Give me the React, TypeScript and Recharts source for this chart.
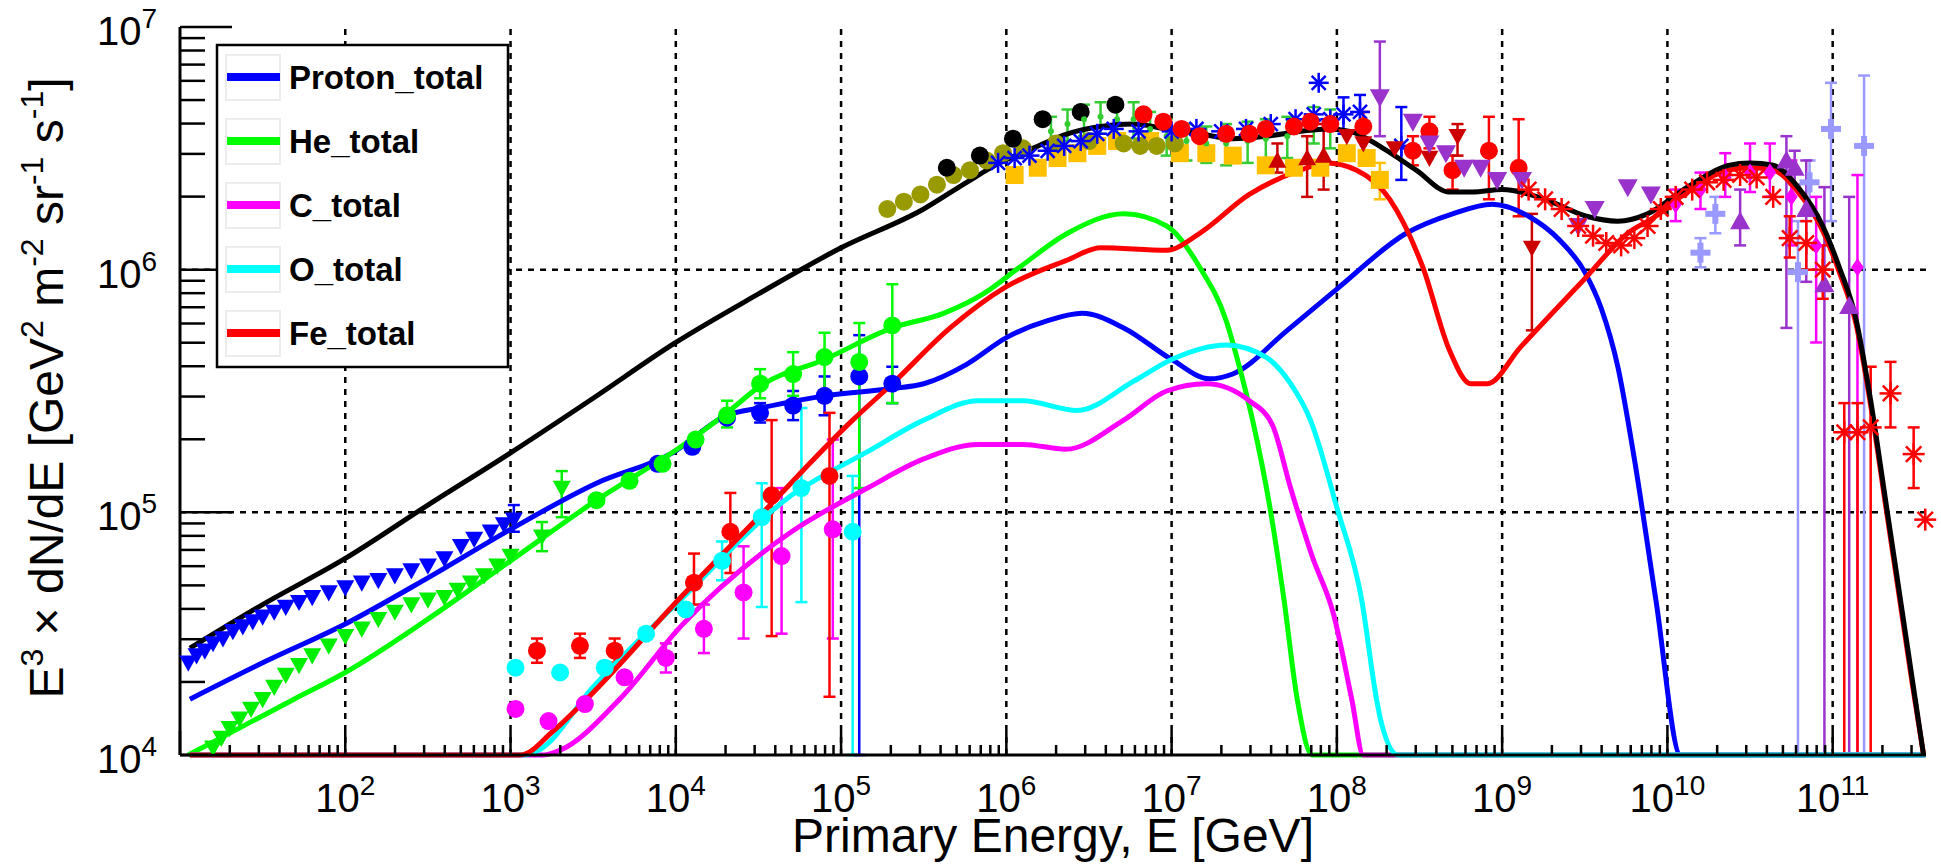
import React from 'react';
import {
  ComposedChart,
  Line,
  Scatter,
  XAxis,
  YAxis,
  ErrorBar,
  ReferenceLine,
} from 'recharts';

// All values as log10(E / GeV), log10(E^3 dN/dE).
// Optional 3rd / 4th entries are log10 of the error bar low / high ends.
type Row = number[];

const FONT = '"Liberation Sans", Arial, Helvetica, sans-serif';

const xDomain = [10, 3.67e11];
const yDomain = [1e4, 1e7];
const xDecadeExps = [1, 2, 3, 4, 5, 6, 7, 8, 9, 10, 11];
const yDecadeExps = [4, 5, 6, 7];
const minorMultipliers = [2, 3, 4, 5, 6, 7, 8, 9];
const xGridExps = [2, 3, 4, 5, 6, 7, 8, 9, 10, 11];
const yGridExps = [5, 6];

const xTitle = 'Primary Energy, E [GeV]';
// [text, isSuperscript]
const yTitleParts: [string, boolean][] = [
  ['E', false], ['3', true], [' × dN/dE [GeV', false], ['2', true], [' m', false], ['-2', true],
  [' sr', false], ['-1', true], [' s', false], ['-1', true], [']', false],
];

// model curves
const protonTotal: Row[] = [
  [1.06, 4.23], [1.5, 4.38], [2, 4.54], [2.5, 4.73], [3, 4.93], [3.52, 5.12], [3.98, 5.245],
  [4.31, 5.4], [4.51, 5.43], [4.9, 5.48], [5.31, 5.51], [5.5, 5.53], [5.76, 5.61], [6, 5.72],
  [6.25, 5.79], [6.46, 5.82], [6.71, 5.76], [7, 5.63], [7.23, 5.55], [7.37, 5.57], [7.7, 5.75],
  [8, 5.92], [8.42, 6.15], [8.7, 6.23], [8.94, 6.27], [9.16, 6.22], [9.35, 6.12], [9.5, 5.99],
  [9.6, 5.84], [9.7, 5.6], [9.8, 5.22], [9.93, 4.64], [10.08, 4.0], [11.56, 4.0],
];
const heliumTotal: Row[] = [
  [1.05, 4.0], [1.69, 4.23], [2, 4.34], [2.5, 4.56], [3, 4.8], [3.52, 5.05], [4.03, 5.27],
  [4.31, 5.41], [4.51, 5.52], [4.9, 5.63], [5.31, 5.76], [5.62, 5.82], [5.86, 5.9], [6.08, 6.01],
  [6.37, 6.15], [6.71, 6.23], [6.97, 6.18], [7.17, 6.01], [7.33, 5.79], [7.41, 5.6], [7.49, 5.38],
  [7.6, 5.0], [7.68, 4.64], [7.76, 4.23], [7.85, 4.0], [11.56, 4.0],
];
const carbonTotal: Row[] = [
  [1.06, 4.0], [3.2, 4.0], [3.3, 4.02], [3.66, 4.23], [4.03, 4.53], [4.7, 4.92], [5.16, 5.1],
  [5.5, 5.22], [5.83, 5.28], [6.1, 5.28], [6.36, 5.26], [6.71, 5.38], [6.97, 5.5], [7.21, 5.53],
  [7.47, 5.46], [7.61, 5.36], [7.72, 5.1], [7.85, 4.82], [7.98, 4.58], [8.09, 4.23], [8.16, 4.0],
  [11.56, 4.0],
];
const oxygenTotal: Row[] = [
  [1.06, 4.0], [3.08, 4.0], [3.17, 4.02], [3.5, 4.28], [4.03, 4.64], [4.7, 5.07], [5.16, 5.25],
  [5.5, 5.38], [5.83, 5.46], [6.1, 5.46], [6.43, 5.42], [6.77, 5.54], [7, 5.63], [7.33, 5.69],
  [7.57, 5.64], [7.72, 5.53], [7.84, 5.38], [8, 5.02], [8.15, 4.64], [8.24, 4.23], [8.27, 4.13],
  [8.37, 4.0], [11.56, 4.0],
];
const ironTotal: Row[] = [
  [1.06, 4.0], [3.06, 4.0], [3.26, 4.1], [3.46, 4.23], [4.03, 4.65], [4.5, 4.98], [5.07, 5.38],
  [5.31, 5.53], [5.66, 5.76], [6, 5.93], [6.37, 6.04], [6.57, 6.09], [6.97, 6.08], [7.17, 6.15],
  [7.47, 6.31], [7.78, 6.41], [7.94, 6.44], [8.12, 6.41], [8.32, 6.29], [8.52, 6.01], [8.68, 5.67],
  [8.81, 5.53], [8.91, 5.53], [9.11, 5.68], [9.51, 5.97], [9.76, 6.15], [9.93, 6.22], [10.12, 6.32],
  [10.37, 6.41], [10.5, 6.42], [10.64, 6.41], [10.79, 6.32], [10.94, 6.16], [11.04, 5.99],
  [11.14, 5.78], [11.23, 5.44], [11.32, 5.03], [11.41, 4.62], [11.48, 4.3], [11.55, 4.0],
];
const allTotal: Row[] = [
  [1.06, 4.44], [1.5, 4.62], [2, 4.81], [2.5, 5.03], [3, 5.245], [3.5, 5.47], [4, 5.7], [4.5, 5.9],
  [5, 6.09], [5.5, 6.25], [5.76, 6.36], [5.96, 6.44], [6.16, 6.5], [6.37, 6.56], [6.57, 6.59],
  [6.77, 6.6], [6.97, 6.58], [7.17, 6.56], [7.37, 6.54], [7.57, 6.55], [7.78, 6.57], [7.94, 6.58],
  [8.08, 6.57], [8.28, 6.5], [8.48, 6.41], [8.68, 6.32], [8.82, 6.32], [9, 6.33], [9.26, 6.29],
  [9.51, 6.22], [9.7, 6.2], [9.88, 6.23], [10.12, 6.34], [10.37, 6.43], [10.5, 6.44], [10.64, 6.43],
  [10.79, 6.34], [10.94, 6.18], [11.04, 6.01], [11.14, 5.8], [11.23, 5.46], [11.32, 5.05],
  [11.41, 4.64], [11.48, 4.32], [11.55, 4.0],
];

// measured points
const protonLowTri: Row[] = [
  [1.05, 4.38], [1.1, 4.41], [1.15, 4.43], [1.2, 4.46], [1.26, 4.48], [1.32, 4.51], [1.38, 4.53],
  [1.44, 4.55], [1.5, 4.57], [1.57, 4.59], [1.64, 4.61], [1.72, 4.63], [1.8, 4.65], [1.9, 4.67],
  [2, 4.69], [2.1, 4.71], [2.2, 4.72], [2.3, 4.74], [2.4, 4.76], [2.5, 4.78], [2.6, 4.81],
  [2.7, 4.86], [2.78, 4.89], [2.88, 4.92], [2.96, 4.95], [3.02, 4.97, 4.92, 5.03],
];
const heliumLowTri: Row[] = [
  [1.2, 4.03], [1.25, 4.07], [1.3, 4.11], [1.36, 4.15], [1.43, 4.19], [1.5, 4.23], [1.57, 4.28],
  [1.64, 4.33], [1.72, 4.37], [1.8, 4.41], [1.9, 4.45], [2, 4.49], [2.1, 4.52], [2.2, 4.56],
  [2.3, 4.59], [2.4, 4.62], [2.5, 4.64], [2.6, 4.65], [2.68, 4.68], [2.76, 4.71], [2.84, 4.74],
  [2.92, 4.78], [3, 4.82], [3.19, 4.9, 4.84, 4.96], [3.31, 5.1, 4.98, 5.17],
];
const protonCircles: Row[] = [
  [3.89, 5.2], [4.1, 5.27], [4.31, 5.39], [4.51, 5.41, 5.37, 5.45], [4.71, 5.44, 5.38, 5.5],
  [4.9, 5.48, 5.4, 5.56], [5.11, 5.56, 4.0, 5.73], [5.31, 5.53, 5.45, 5.6],
];
const heliumCircles: Row[] = [
  [3.52, 5.05], [3.72, 5.13], [3.92, 5.2], [4.12, 5.3], [4.31, 5.4, 5.35, 5.46],
  [4.51, 5.53, 5.47, 5.59], [4.71, 5.57, 5.48, 5.66], [4.9, 5.64, 5.46, 5.74],
  [5.11, 5.62, 5.1, 5.78], [5.31, 5.77, 5.45, 5.94],
];
const ironCircles: Row[] = [
  [3.16, 4.43, 4.38, 4.48], [3.42, 4.45, 4.4, 4.5], [3.63, 4.43, 4.38, 4.48],
  [4.11, 4.71, 4.62, 4.83], [4.33, 4.92, 4.75, 5.08], [4.58, 5.07, 4.49, 5.38],
  [4.93, 5.15, 4.24, 5.41],
];
const oxygenCircles: Row[] = [
  [3.03, 4.36], [3.3, 4.34], [3.57, 4.36], [3.82, 4.5], [4.06, 4.6], [4.28, 4.8, 4.72, 4.88],
  [4.52, 4.98, 4.61, 5.12], [4.76, 5.1, 4.63, 5.43], [5.07, 4.92, 4.0, 5.15],
];
const carbonCircles: Row[] = [
  [3.03, 4.19], [3.23, 4.14], [3.45, 4.21], [3.69, 4.32], [3.94, 4.4, 4.34, 4.46],
  [4.17, 4.52, 4.42, 4.62], [4.41, 4.67, 4.48, 4.86], [4.64, 4.82, 4.5, 5.1], [4.95, 4.93, 4.48, 5.3],
];
const oliveCircles: Row[] = [
  [5.28, 6.25], [5.38, 6.28], [5.48, 6.31], [5.58, 6.35], [5.68, 6.39], [5.78, 6.41], [5.88, 6.45],
  [5.98, 6.48], [6.1, 6.5], [6.3, 6.52], [6.5, 6.53], [6.71, 6.52], [6.81, 6.51], [6.91, 6.51],
  [7.02, 6.52],
];
const blackCircles: Row[] = [
  [5.64, 6.42], [5.84, 6.47], [6.04, 6.54], [6.22, 6.62], [6.45, 6.65], [6.66, 6.68],
];
const greenBars: Row[] = [
  [6.27, 6.57, 6.5, 6.63], [6.37, 6.6, 6.53, 6.66], [6.47, 6.62, 6.55, 6.68], [6.57, 6.63, 6.56, 6.69],
  [6.67, 6.62, 6.55, 6.68], [6.77, 6.62, 6.54, 6.69], [6.87, 6.58, 6.5, 6.65], [6.97, 6.55, 6.47, 6.62],
  [7.09, 6.53, 6.45, 6.6], [7.21, 6.52, 6.44, 6.59], [7.33, 6.52, 6.43, 6.6], [7.46, 6.53, 6.44, 6.61],
  [7.57, 6.54, 6.45, 6.62], [7.7, 6.55, 6.46, 6.63], [7.86, 6.6, 6.52, 6.67], [7.96, 6.58, 6.5, 6.66],
];
const blueStars: Row[] = [
  [5.95, 6.44], [6.05, 6.46], [6.14, 6.47], [6.25, 6.49], [6.35, 6.51], [6.45, 6.53], [6.55, 6.56],
  [6.65, 6.58], [6.8, 6.57], [7, 6.57], [7.15, 6.58], [7.3, 6.57], [7.45, 6.58], [7.6, 6.6],
  [7.75, 6.62], [7.86, 6.64], [7.89, 6.77], [7.96, 6.62], [8.04, 6.64, 6.56, 6.71],
  [8.14, 6.65, 6.56, 6.72], [8.39, 6.51, 6.37, 6.67],
];
const orangeSquares: Row[] = [
  [6.05, 6.39], [6.19, 6.42], [6.31, 6.46], [6.43, 6.48], [6.55, 6.51], [6.67, 6.53], [6.87, 6.53],
  [7.05, 6.48], [7.21, 6.48], [7.37, 6.47], [7.57, 6.43], [7.74, 6.42], [7.9, 6.42], [8.06, 6.48],
  [8.18, 6.46], [8.26, 6.37, 6.29, 6.44],
];
const redHighCircles: Row[] = [
  [6.83, 6.64], [6.95, 6.61], [7.06, 6.58], [7.17, 6.55], [7.33, 6.56], [7.47, 6.56], [7.57, 6.58],
  [7.74, 6.59], [7.84, 6.61], [7.96, 6.6], [8.16, 6.59, 6.53, 6.65], [8.46, 6.49, 6.43, 6.55],
  [8.56, 6.57, 6.5, 6.63], [8.7, 6.41, 6.33, 6.47], [8.92, 6.49, 6.29, 6.63], [9.1, 6.42, 6.22, 6.62],
];
const darkRedUp: Row[] = [
  [7.64, 6.45, 6.4, 6.52], [7.82, 6.46, 6.3, 6.55], [7.92, 6.47, 6.33, 6.6],
];
const darkRedDown: Row[] = [
  [8.06, 6.55], [8.16, 6.52], [8.35, 6.5], [8.56, 6.46], [8.73, 6.55, 6.47, 6.6],
  [9.18, 6.09, 5.75, 6.23],
];
const purpleDown: Row[] = [
  [8.26, 6.71, 6.55, 6.94], [8.46, 6.61], [8.56, 6.52], [8.66, 6.48], [8.77, 6.42], [8.87, 6.42],
  [8.97, 6.37], [9.12, 6.37], [9.46, 6.18], [9.56, 6.25], [9.76, 6.34], [9.9, 6.31],
];
const redCrosses: Row[] = [
  [9.16, 6.33], [9.26, 6.29], [9.36, 6.25], [9.46, 6.18], [9.55, 6.14], [9.63, 6.11], [9.72, 6.1],
  [9.8, 6.13], [9.88, 6.18], [9.96, 6.25], [10.05, 6.3], [10.15, 6.33], [10.24, 6.36],
  [10.34, 6.37], [10.44, 6.39], [10.54, 6.38], [10.64, 6.3], [10.74, 6.13, 6.05, 6.22],
  [10.84, 6.11, 6.0, 6.2], [10.94, 6.0, 5.88, 6.1], [11.07, 5.33, 4.0, 5.45],
  [11.15, 5.33, 4.0, 5.45], [11.23, 5.35, 4.0, 5.6], [11.35, 5.49, 5.35, 5.62],
  [11.49, 5.24, 5.1, 5.35], [11.56, 4.97],
];
const magentaDiamonds: Row[] = [
  [10.05, 6.27, 6.2, 6.33], [10.2, 6.33, 6.25, 6.4], [10.35, 6.38, 6.3, 6.48], [10.5, 6.4, 6.32, 6.52],
  [10.62, 6.4, 6.3, 6.52], [10.75, 6.3, 6.1, 6.45], [10.9, 6.1, 5.7, 6.3], [11.15, 6.01, 4.0, 6.39],
];
const lavenderCrosses: Row[] = [
  [10.2, 6.07, 6.01, 6.13], [10.29, 6.23, 6.15, 6.3], [10.79, 5.99, 4.0, 6.2],
  [10.86, 6.36, 6.25, 6.45], [10.99, 6.58, 6.2, 6.77], [11.19, 6.51, 4.0, 6.8],
];
const purpleUp: Row[] = [
  [10.44, 6.2, 6.1, 6.33], [10.72, 6.45, 5.76, 6.55], [10.77, 6.42, 6.35, 6.49],
  [10.84, 6.25, 5.95, 6.45], [10.95, 5.94, 4.0, 6.34], [11.1, 5.85, 4.0, 6.3],
];

type Pt = { x: number; y: number; err?: [number, number] };

const toPoints = (rows: Row[]): Pt[] =>
  rows.map(([e, v, lo, hi]) => {
    const y = 10 ** v;
    const p: Pt = { x: 10 ** e, y };
    if (lo !== undefined && hi !== undefined) p.err = [y - 10 ** lo, 10 ** hi - y];
    return p;
  });

// marker shapes
const mk = (draw: (x: number, y: number) => React.ReactElement) => (p: any) => {
  if (p == null || p.cx == null || p.cy == null) return <g />;
  return draw(p.cx, p.cy);
};
const circleM = (c: string, r = 9) => mk((x, y) => <circle cx={x} cy={y} r={r} fill={c} />);
const triDownM = (c: string, s = 9) =>
  mk((x, y) => <polygon points={`${x - s},${y - s * 0.8} ${x + s},${y - s * 0.8} ${x},${y + s}`} fill={c} />);
const triUpM = (c: string, s = 9) =>
  mk((x, y) => <polygon points={`${x - s},${y + s * 0.8} ${x + s},${y + s * 0.8} ${x},${y - s}`} fill={c} />);
const starM = (c: string, s = 10) =>
  mk((x, y) => (
    <g stroke={c} strokeWidth={2.5}>
      <line x1={x - s} x2={x + s} y1={y} y2={y} />
      <line x1={x} x2={x} y1={y - s} y2={y + s} />
      <line x1={x - s * 0.7} x2={x + s * 0.7} y1={y - s * 0.7} y2={y + s * 0.7} />
      <line x1={x - s * 0.7} x2={x + s * 0.7} y1={y + s * 0.7} y2={y - s * 0.7} />
    </g>
  ));
const squareM = (c: string, s = 9) => mk((x, y) => <rect x={x - s} y={y - s} width={2 * s} height={2 * s} fill={c} />);
const plusM = (c: string, s = 10) =>
  mk((x, y) => (
    <g stroke={c} strokeWidth={6}>
      <line x1={x - s} x2={x + s} y1={y} y2={y} />
      <line x1={x} x2={x} y1={y - s} y2={y + s} />
    </g>
  ));
const diamondM = (c: string, s = 9) =>
  mk((x, y) => <polygon points={`${x},${y - s} ${x + s * 0.7},${y} ${x},${y + s} ${x - s * 0.7},${y}`} fill={c} />);

const pointSeries = [
  { key: 'orangeSq', rows: orangeSquares, color: '#ffc000', shape: squareM('#ffc000') },
  { key: 'olive', rows: oliveCircles, color: '#999900', shape: circleM('#999900') },
  { key: 'blackC', rows: blackCircles, color: '#000000', shape: circleM('#000000') },
  { key: 'greenBars', rows: greenBars, color: '#33cc33', shape: circleM('#33cc33', 3) },
  { key: 'blueStars', rows: blueStars, color: '#0000ff', shape: starM('#0000ff') },
  { key: 'redHigh', rows: redHighCircles, color: '#ff0000', shape: circleM('#ff0000') },
  { key: 'darkUp', rows: darkRedUp, color: '#cc0000', shape: triUpM('#cc0000') },
  { key: 'darkDown', rows: darkRedDown, color: '#cc0000', shape: triDownM('#cc0000') },
  { key: 'purpleDown', rows: purpleDown, color: '#9933cc', shape: triDownM('#9933cc', 10) },
  { key: 'lavender', rows: lavenderCrosses, color: '#9999ff', shape: plusM('#9999ff') },
  { key: 'magentaD', rows: magentaDiamonds, color: '#ff00ff', shape: diamondM('#ff00ff') },
  { key: 'purpleUp', rows: purpleUp, color: '#9933cc', shape: triUpM('#9933cc', 10) },
  { key: 'redCross', rows: redCrosses, color: '#ff0000', shape: starM('#ff0000', 11) },
  { key: 'pTri', rows: protonLowTri, color: '#0000ff', shape: triDownM('#0000ff') },
  { key: 'heTri', rows: heliumLowTri, color: '#00ee00', shape: triDownM('#00ee00') },
  { key: 'pCirc', rows: protonCircles, color: '#0000ff', shape: circleM('#0000ff') },
  { key: 'heCirc', rows: heliumCircles, color: '#00ff00', shape: circleM('#00ff00') },
  { key: 'oCirc', rows: oxygenCircles, color: '#00ffff', shape: circleM('#00ffff') },
  { key: 'cCirc', rows: carbonCircles, color: '#ff00ff', shape: circleM('#ff00ff') },
  { key: 'feCirc', rows: ironCircles, color: '#ff0000', shape: circleM('#ff0000') },
];

const curveSeries = [
  { name: 'Proton_total', rows: protonTotal, color: '#0000ff' },
  { name: 'He_total', rows: heliumTotal, color: '#00ff00' },
  { name: 'C_total', rows: carbonTotal, color: '#ff00ff' },
  { name: 'O_total', rows: oxygenTotal, color: '#00ffff' },
  { name: 'Fe_total', rows: ironTotal, color: '#ff0000' },
];

const xTicks = xDecadeExps
  .flatMap((d) => [10 ** d, ...minorMultipliers.map((m) => m * 10 ** d)])
  .filter((v) => v <= xDomain[1]);
const yTicks = yDecadeExps.flatMap((d) => (d === 7 ? [10 ** d] : [10 ** d, ...minorMultipliers.map((m) => m * 10 ** d)]));

const expOf = (v: number) => Math.round(Math.log10(v));
const isMajor = (v: number) => Math.abs(Math.log10(v) - expOf(v)) < 1e-9;

const BottomTick = (props: any) => {
  const { x, y, payload } = props;
  const v = payload.value;
  const major = isMajor(v);
  const e = expOf(v);
  return (
    <g>
      <line x1={x} x2={x} y1={y} y2={y - (major ? 24 : 10)} stroke="#000" strokeWidth={2.5} />
      {major && e >= 2 && (
        <text x={x} y={y + 57} textAnchor="middle" fontSize={40} fontFamily={FONT} fill="#000">
          10<tspan dy={-17} fontSize={28}>{e}</tspan>
        </text>
      )}
    </g>
  );
};
const TopTick = (props: any) => {
  const { x, y, payload } = props;
  const major = isMajor(payload.value);
  return <line x1={x} x2={x} y1={y} y2={y + (major ? 25 : 10)} stroke="#000" strokeWidth={2.5} />;
};
const LeftTick = (props: any) => {
  const { x, y, payload } = props;
  const v = payload.value;
  const major = isMajor(v);
  return (
    <g>
      <line x1={x} x2={x + (major ? 52 : 25)} y1={y} y2={y} stroke="#000" strokeWidth={2.5} />
      {major && (
        <text x={x - 23} y={y + 18} textAnchor="end" fontSize={40} fontFamily={FONT} fill="#000">
          10<tspan dy={-17} fontSize={28}>{expOf(v)}</tspan>
        </text>
      )}
    </g>
  );
};
const RightTick = (props: any) => {
  const { x, y, payload } = props;
  const major = isMajor(payload.value);
  return <line x1={x} x2={x - (major ? 52 : 25)} y1={y} y2={y} stroke="#000" strokeWidth={2.5} />;
};

const axisLine = { stroke: '#000', strokeWidth: 3 };
const gridStyle = { stroke: '#000', strokeWidth: 2.5, strokeDasharray: '6 6' };

export default function App() {
  return (
    <div style={{ position: 'relative', width: 1941, height: 868, background: '#fff' }}>
      <style>{'body{margin:0}'}</style>
      <ComposedChart width={1941} height={868} margin={{ top: 27, right: 15, bottom: 0, left: 0 }}>
        <XAxis
          dataKey="x"
          type="number"
          scale="log"
          domain={xDomain}
          ticks={xTicks}
          interval={0}
          height={113}
          tickSize={0}
          tickMargin={0}
          tickLine={false}
          axisLine={axisLine}
          tick={(p: any) => <BottomTick {...p} />}
        />
        <XAxis
          xAxisId="top"
          orientation="top"
          dataKey="x"
          type="number"
          scale="log"
          domain={xDomain}
          ticks={xTicks}
          interval={0}
          height={0}
          tickSize={0}
          tickMargin={0}
          tickLine={false}
          axisLine={axisLine}
          tick={(p: any) => <TopTick {...p} />}
        />
        <YAxis
          dataKey="y"
          type="number"
          scale="log"
          domain={yDomain}
          ticks={yTicks}
          interval={0}
          width={180}
          tickSize={0}
          tickMargin={0}
          tickLine={false}
          axisLine={axisLine}
          tick={(p: any) => <LeftTick {...p} />}
        />
        <YAxis
          yAxisId="right"
          orientation="right"
          dataKey="y"
          type="number"
          scale="log"
          domain={yDomain}
          ticks={yTicks}
          interval={0}
          width={0}
          tickSize={0}
          tickMargin={0}
          tickLine={false}
          axisLine={axisLine}
          tick={(p: any) => <RightTick {...p} />}
        />
        {xGridExps.map((d) => (
          <ReferenceLine key={`gx${d}`} x={10 ** d} {...gridStyle} />
        ))}
        {yGridExps.map((d) => (
          <ReferenceLine key={`gy${d}`} y={10 ** d} {...gridStyle} />
        ))}
        {pointSeries.map((s) => (
          <Scatter
            key={s.key}
            data={toPoints(s.rows)}
            dataKey="y"
            fill={s.color}
            shape={s.shape}
            isAnimationActive={false}
          >
            <ErrorBar dataKey="err" direction="y" width={6} stroke={s.color} strokeWidth={2.5} />
          </Scatter>
        ))}
        {curveSeries.map((s) => (
          <Line
            key={s.name}
            data={toPoints(s.rows)}
            dataKey="y"
            type="monotone"
            stroke={s.color}
            strokeWidth={5}
            dot={false}
            activeDot={false}
            isAnimationActive={false}
          />
        ))}
        <Line
          data={toPoints(allTotal)}
          dataKey="y"
          type="monotone"
          stroke="#000"
          strokeWidth={5}
          dot={false}
          activeDot={false}
          isAnimationActive={false}
        />
      </ComposedChart>
      <svg
        width={1941}
        height={868}
        style={{ position: 'absolute', left: 0, top: 0, pointerEvents: 'none' }}
        fontFamily={FONT}
      >
        <text x={1053} y={852} textAnchor="middle" fontSize={48} fill="#000">
          {xTitle}
        </text>
        <text transform="translate(63,388) rotate(-90)" textAnchor="middle" fontSize={48} fill="#000">
          {yTitleParts.map(([t, isSup], i) => {
            const prevSup = i > 0 && yTitleParts[i - 1][1];
            const dy = isSup ? -20 : prevSup ? 20 : 0;
            return (
              <tspan key={i} dy={dy} fontSize={isSup ? 32 : 48}>
                {t}
              </tspan>
            );
          })}
        </text>
        <rect x={217} y={45} width={291} height={322} fill="#fff" stroke="#000" strokeWidth={2.5} />
        {curveSeries.map((s, i) => {
          const cy = 77 + i * 64;
          return (
            <g key={s.name}>
              <rect x={226} y={cy - 22} width={54} height={45} fill="none" stroke="#ececec" strokeWidth={2} />
              <line x1={227} x2={280} y1={cy} y2={cy} stroke={s.color} strokeWidth={8} />
              <text x={289} y={cy + 12} fontSize={33} fontWeight="bold" fill="#000">
                {s.name}
              </text>
            </g>
          );
        })}
      </svg>
    </div>
  );
}
